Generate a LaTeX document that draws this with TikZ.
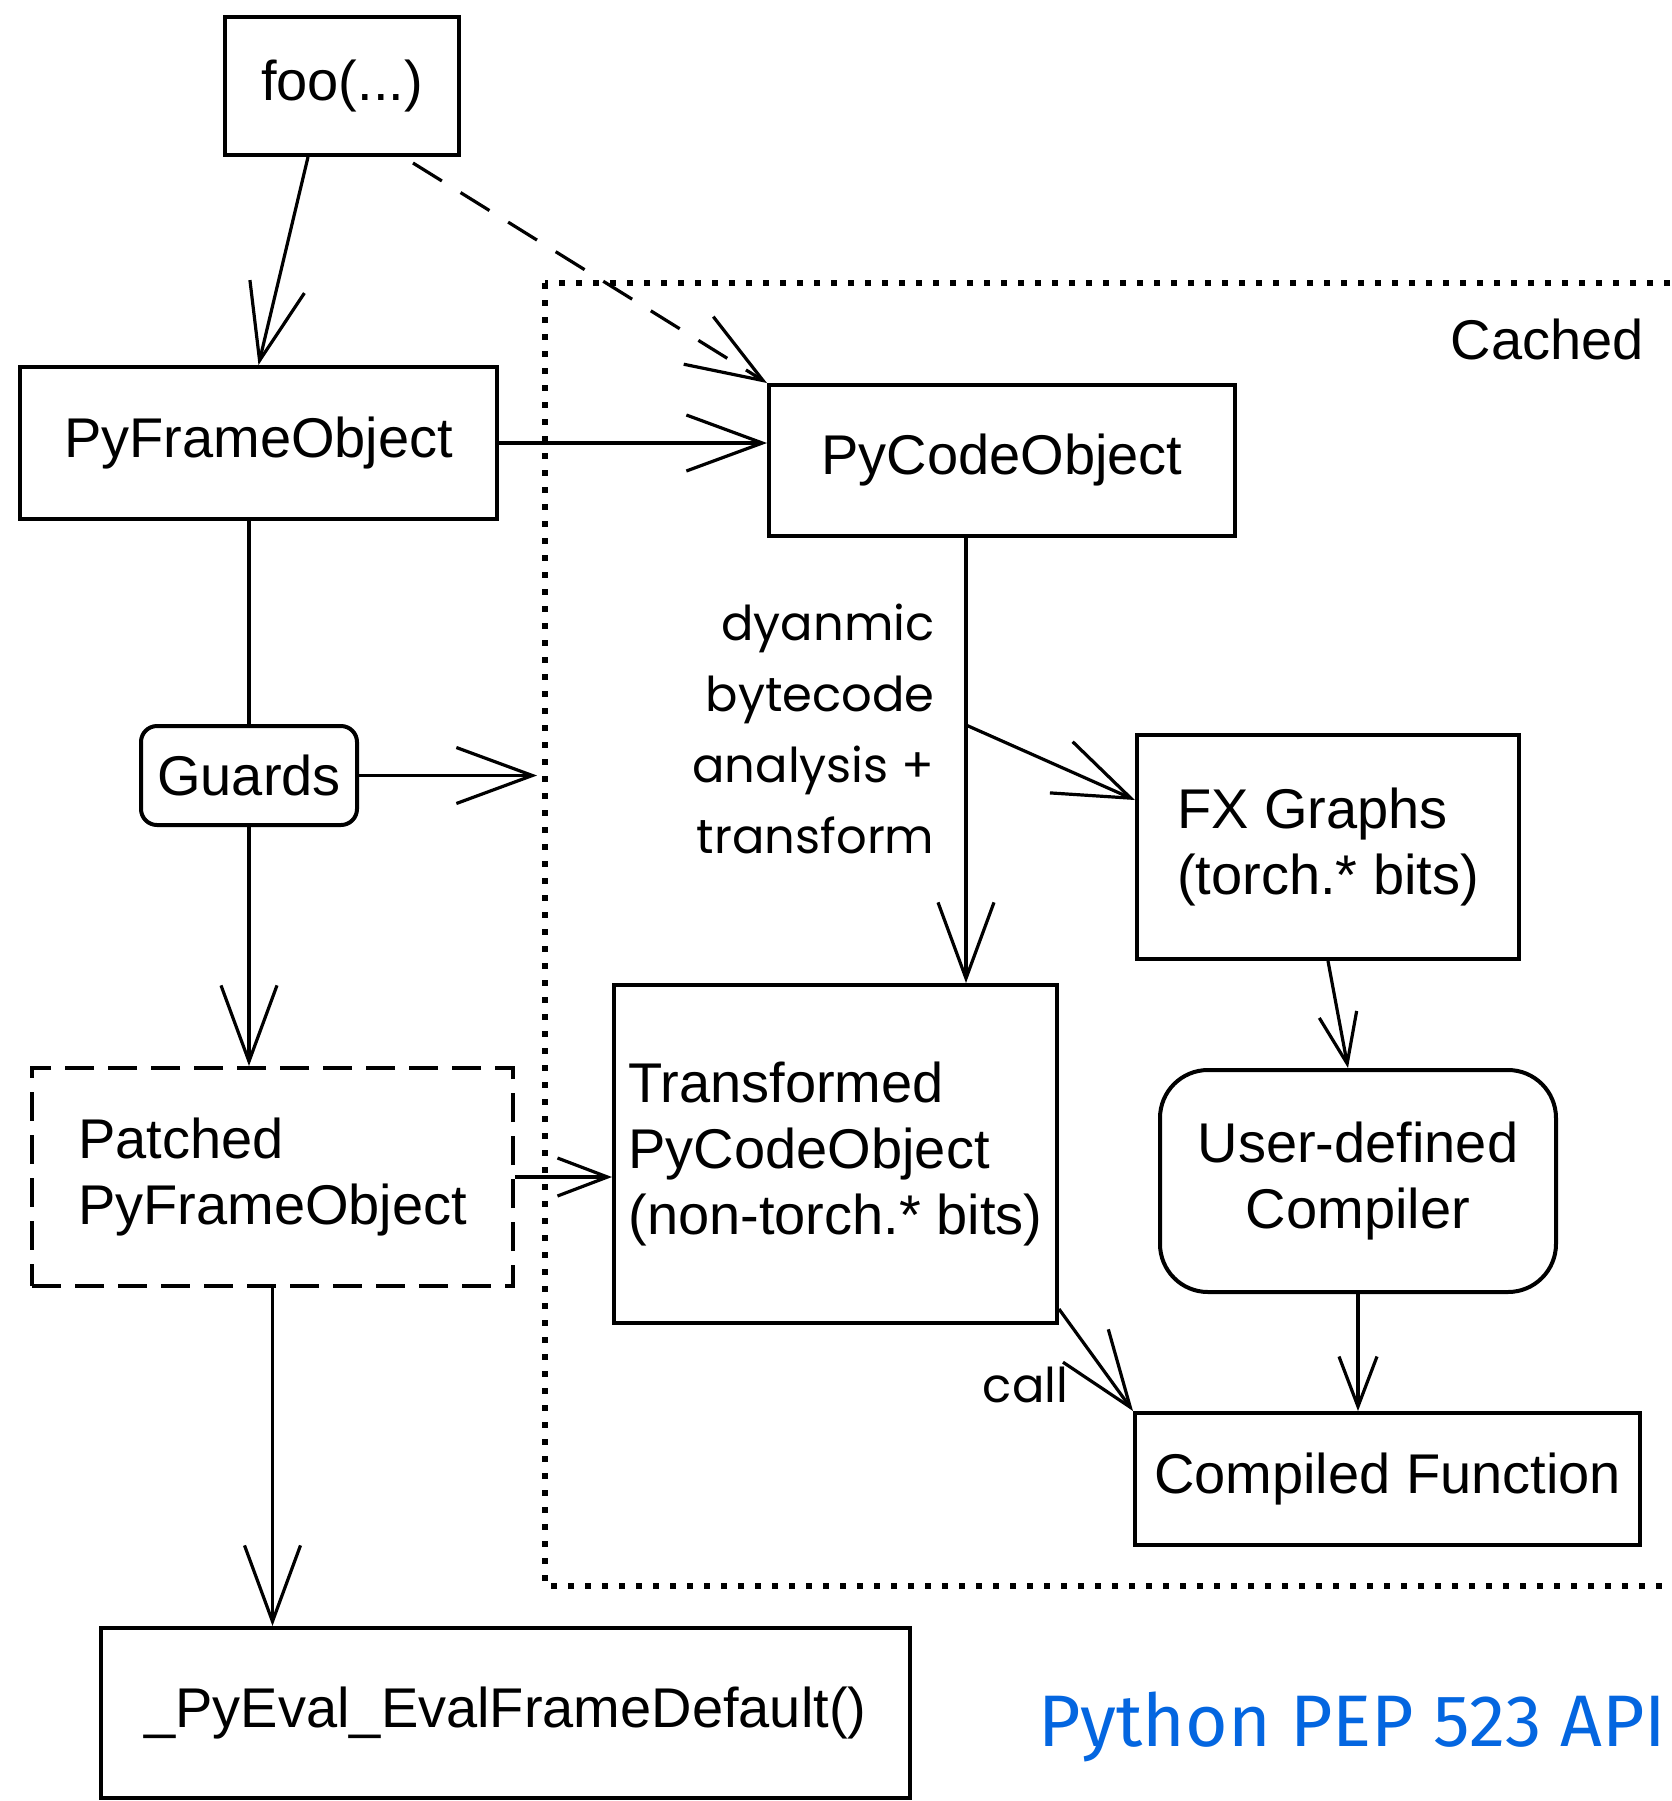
\documentclass[tikz,border=0pt]{standalone}
\usepackage{fontspec}
\setmainfont{Liberation Sans}
\newfontfamily\handfont{Poppins}
\newfontfamily\pepfont{Fira Sans}
\usetikzlibrary{arrows.meta, calc}
\definecolor{pepblue}{RGB}{4, 102, 224}

\begin{document}
\begin{tikzpicture}[x=0.5pt, y=-0.5pt,
  box/.style={draw, line width=2pt, inner sep=0pt, font=\fontsize{28}{33}\selectfont},
  roundbox/.style={box, rounded corners=#1},
  arr/.style={line width=1.6pt, -{Straight Barb[length=38pt, width=28pt]}},
  smallarr/.style={line width=1.6pt, -{Straight Barb[length=25pt, width=19pt]}},
  hand/.style={font=\handfont\fontsize{24}{35.5}\selectfont, inner sep=0pt},
  cacheline/.style={line width=2.6pt, dash pattern=on 3pt off 5.5pt}]

  \fill[white] (0, 0) rectangle (1672, 1801);
  \useasboundingbox (0, 0) rectangle (1672, 1801);

  % the cached part
  \coordinate (cachenw) at (545, 283);
  \coordinate (cachese) at (1700, 1586);
  \draw[cacheline] (cachenw) rectangle (cachese);
  \node[font=\fontsize{28}{33}\selectfont, anchor=east] (cached) at (1651, 339) {Cached};

  \node[box, minimum width=117pt, minimum height=69pt] (foo) at (342, 86) {foo(...)};
  \node[box, minimum width=238.5pt, minimum height=76pt] (pfo) at (258.5, 443) {PyFrameObject};
  \node[box, minimum width=233pt, minimum height=75.5pt] (pco) at (1002, 460.5) {PyCodeObject};
  \node[roundbox=8pt, minimum width=108pt, minimum height=49.5pt] (guards) at (249, 775.5) {Guards};
  \node[box, minimum width=191pt, minimum height=112pt, align=left] (fx) at (1328, 847) {FX Graphs\\(torch.* bits)};
  \node[box, minimum width=221.5pt, minimum height=169pt, align=left] (tpco) at (835.5, 1154)
    {Transformed\\PyCodeObject\\(non-torch.* bits)};
  \node[roundbox=24pt, minimum width=198pt, minimum height=111pt, align=center] (udc) at (1358, 1181)
    {User-defined\\Compiler};
  \node[box, minimum width=252.5pt, minimum height=66pt] (cf) at (1387.5, 1479) {Compiled Function};
  \node[box, dash pattern=on 14.5pt off 7pt, minimum width=240.5pt, minimum height=109pt, align=left]
    (patched) at (272.5, 1177) {Patched\\PyFrameObject};
  \node[box, minimum width=404.5pt, minimum height=85pt] (eval) at (505.5, 1713) {\_PyEval\_EvalFrameDefault()};

  \node[font=\pepfont\fontsize{36.5}{44}\selectfont, text=pepblue, anchor=base west, inner sep=0pt]
    (pep) at (1038, 1746) {Python PEP 523 API};

  % frame side
  \draw[arr] ([xshift=-17pt]foo.south) -- (pfo.north);
  \draw[arr, dash pattern=on 17pt off 11pt] ([xshift=-24pt, yshift=-3pt]foo.south east) -- (pco.north west);
  \draw[arr] (pfo.east) -- (pfo.east -| pco.west);
  \draw[line width=1.6pt] (guards.north |- pfo.south) -- (guards.north);
  \draw[arr, shorten >=4pt] (guards.east) -- (guards.east -| cachenw);
  \draw[arr] (guards.south) -- (guards.south |- patched.north);
  \draw[smallarr] (patched.east) -- (patched.east -| tpco.west);
  \draw[arr] (patched.south) -- (patched.south |- eval.north);

  % code side
  \coordinate (codeout) at ([xshift=-18pt]pco.south);
  \draw[arr] (codeout) -- (codeout |- tpco.north)
    node[hand, pos=0.43, left=15pt, align=right] (bytecode) {dyanmic\\bytecode\\analysis +\\transform};
  \path (codeout) ++(0, 187) coordinate (fork);
  \draw[arr] (fork) -- ([yshift=23.5pt]fx.west);
  \draw[smallarr] (fx.south) -- ([xshift=-5pt]udc.north);
  \draw[smallarr] (udc.south) -- (udc.south |- cf.north);
  \draw[arr] ([yshift=8pt]tpco.south east) -- (cf.north west)
    node[hand, pos=0.74, left=22pt] (call) {call};

\end{tikzpicture}
\end{document}
